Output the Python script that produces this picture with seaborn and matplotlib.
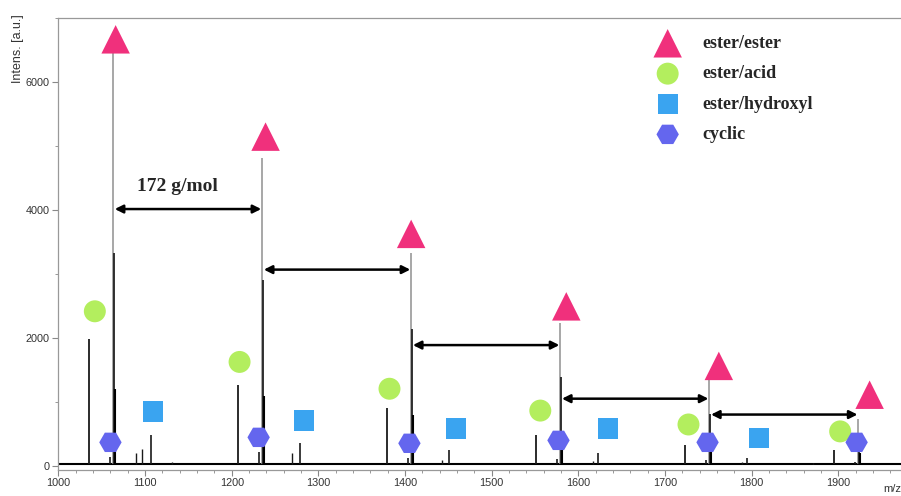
import numpy as np
import pandas as pd
import matplotlib
matplotlib.use("Agg")
import matplotlib.pyplot as plt
from matplotlib.ticker import MultipleLocator
import seaborn as sns

# ---------- peak lists (m/z, intensity) ----------
EE_MZ = [1063, 1235, 1407, 1579, 1751, 1923]          # ester/ester, main peaks
EE_INT = [6520, 4820, 3330, 2230, 1340, 740]
ISO_MZ = [1064, 1236, 1408, 1580, 1752, 1924]         # isotope shoulder, drawn black
ISO_INT = [3330, 2900, 2150, 1400, 820, 450]
ISO2_MZ = [1065, 1237, 1409, 1581, 1753, 1925]
ISO2_INT = [1200, 1100, 800, 520, 330, 200]
EA_MZ = [1035, 1207, 1379, 1551, 1723, 1895]          # ester/acid
EA_INT = [1980, 1260, 910, 480, 330, 250]
EH_MZ = [1107, 1279, 1451, 1623, 1795]                # ester/hydroxyl
EH_INT = [480, 360, 250, 200, 120]
CY_MZ = [1059, 1231, 1403, 1575, 1747, 1919]          # cyclic
CY_INT = [150, 220, 130, 110, 90, 70]
MINOR_MZ = [1089, 1097, 1131, 1269, 1443, 1617, 1789, 1871]
MINOR_INT = [200, 270, 60, 200, 100, 80, 60, 50]

# ---------- marker positions ----------
TRI_MZ = [1066, 1239, 1407, 1586, 1762, 1936]
TRI_INT = [6667, 5147, 3628, 2496, 1566, 1116]
CIR_MZ = [1042, 1209, 1382, 1556, 1727, 1902]
CIR_INT = [2419, 1628, 1209, 868, 651, 543]
SQ_MZ = [1109, 1283, 1459, 1634, 1808]
SQ_INT = [853, 713, 589, 589, 434]
HEX_MZ = [1060, 1231, 1405, 1577, 1749, 1921]
HEX_INT = [372, 450, 357, 403, 372, 372]

ARROW_Y = [4016, 3070, 1891, 1054, 806]
BASELINE = 30

sns.set_theme(style="ticks")
plt.rcParams["font.family"] = ["Liberation Sans", "DejaVu Sans"]
SERIF = ["Liberation Serif", "DejaVu Serif"]

fig = plt.figure(figsize=(9.01, 4.96), dpi=100)
ax = fig.add_axes([58 / 901, 1 - 470 / 496, 1 - 58 / 901 + 0.02, (470 - 18) / 496])

# spectrum sticks
ax.axhline(BASELINE, color="black", lw=1.5, zorder=1)
ax.vlines(EE_MZ, BASELINE, EE_INT, color="#8f8f8f", lw=1.1, zorder=2)
ax.vlines(ISO_MZ, BASELINE, ISO_INT, color="#222222", lw=1.3, zorder=3)
ax.vlines(ISO2_MZ, BASELINE, ISO2_INT, color="black", lw=1.5, zorder=3)
ax.vlines(EA_MZ, BASELINE, EA_INT, color="#1a1a1a", lw=1.3, zorder=3)
ax.vlines(EH_MZ, BASELINE, EH_INT, color="#1a1a1a", lw=1.2, zorder=3)
ax.vlines(CY_MZ, BASELINE, CY_INT, color="#1a1a1a", lw=1.2, zorder=3)
ax.vlines(MINOR_MZ, BASELINE, MINOR_INT, color="#1a1a1a", lw=1.0, zorder=3)

# markers
groups = [
    ("ester/ester", TRI_MZ, TRI_INT, "^", "#f0307c", 420),
    ("ester/acid", CIR_MZ, CIR_INT, "o", "#b3ee5e", 250),
    ("ester/hydroxyl", SQ_MZ, SQ_INT, "s", "#3aa4f0", 210),
    ("cyclic", HEX_MZ, HEX_INT, "H", "#6466ee", 260),
]
for name, xs, ys, mk, col, sz in groups:
    sns.scatterplot(x=xs, y=ys, marker=mk, color=col, s=sz, edgecolor="none",
                    label=name, ax=ax, zorder=5)

# 172 g/mol spacing arrows
for i, y in enumerate(ARROW_Y):
    ax.annotate("", xy=(EE_MZ[i + 1] - 1, y), xytext=(EE_MZ[i] + 2, y),
                arrowprops=dict(arrowstyle="<|-|>", color="black", lw=1.8,
                                mutation_scale=12, shrinkA=0, shrinkB=0), zorder=4)
ax.text(1137, 4370, "172 g/mol", ha="center", va="center", fontsize=14,
        fontweight="bold", family=SERIF)

# axes
ax.set_xlim(999.5, 1993)
ax.set_ylim(-60, 7000)
ax.xaxis.set_major_locator(MultipleLocator(100))
ax.xaxis.set_minor_locator(MultipleLocator(20))
ax.yaxis.set_major_locator(MultipleLocator(2000))
ax.yaxis.set_minor_locator(MultipleLocator(1000))
ax.tick_params(axis="both", which="major", labelsize=7.8, length=4, width=0.8,
               color="#888888", labelcolor="#333333", pad=2)
ax.tick_params(axis="both", which="minor", length=2.5, width=0.6, color="#888888")
for side in ["left", "top", "bottom"]:
    ax.spines[side].set_color("#999999")
    ax.spines[side].set_linewidth(0.9)
ax.spines["right"].set_visible(False)
ax.spines["top"].set_visible(True)
ax.set_xlabel("")
ax.set_ylabel("")

fig.text(18 / 901, 1 - 14 / 496, "Intens. [a.u.]", rotation=90, ha="center", va="top",
         fontsize=9, color="#333333")
fig.text(1.0, 0.004, "m/z", ha="right", va="bottom", fontsize=8, color="#333333")

leg = ax.legend(loc="upper left", bbox_to_anchor=(646 / 901, 1 - 26 / 496),
                bbox_transform=fig.transFigure, frameon=False, borderpad=0,
                handlelength=1.4, handletextpad=1.2, labelspacing=0.74,
                prop={"family": SERIF, "weight": "bold", "size": 13})

fig.savefig("out.png", dpi=100)
